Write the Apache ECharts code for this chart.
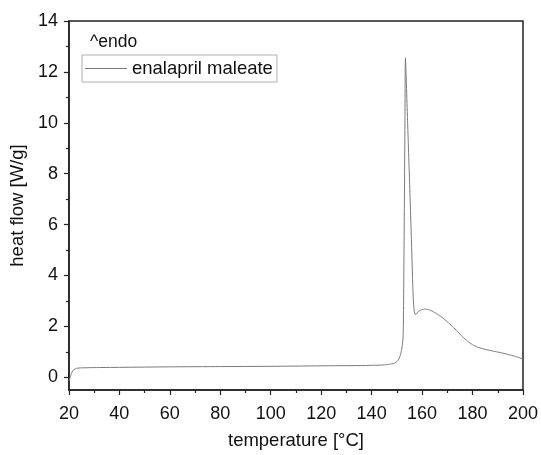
<!DOCTYPE html>
<html>
<head>
<meta charset="utf-8">
<script src="https://cdn.jsdelivr.net/npm/echarts@6/dist/echarts.min.js"></script>
<style>
  html, body { margin: 0; padding: 0; background: #fff; }
  #chart { width: 541px; height: 455px; }
</style>
</head>
<body>
<div id="chart"></div>
<script>
// DSC scan of enalapril maleate: temperature (°C) vs heat flow (W/g)
const temperature = [
  20, 20.5, 21, 21.5, 22, 23, 25, 30, 40, 60, 80, 100, 120, 135, 140, 144,
  146, 147.5, 149, 150, 150.8, 151.5, 152, 152.5, 152.8, 153.0, 153.2, 153.4,
  154.2, 155, 155.8, 156.5, 156.9, 157.3, 157.8, 158.5, 159.5, 161, 162.5, 164,
  166, 168, 170, 172, 174, 176, 178, 180, 182, 185, 188, 191, 194, 197, 200
];
const heatFlow = [
  -0.15, 0.0, 0.15, 0.25, 0.3, 0.35, 0.37, 0.38, 0.39, 0.41, 0.42, 0.43, 0.45, 0.46, 0.47, 0.48,
  0.5, 0.52, 0.55, 0.62, 0.72, 0.9, 1.15, 1.6, 4.5, 7.0, 10.0, 12.55,
  10.2, 7.8, 5.3, 3.1, 2.6, 2.47, 2.5, 2.58, 2.64, 2.68, 2.66, 2.6,
  2.48, 2.35, 2.18, 2.0, 1.8, 1.6, 1.42, 1.28, 1.18, 1.1, 1.03, 0.97, 0.9, 0.82, 0.72
];
const yMajorTicks = [0, 2, 4, 6, 8, 10, 12, 14];
const yMinorTicks = [1, 3, 5, 7, 9, 11, 13];

const font = 'Liberation Sans, Arial, sans-serif';
const axisColor = '#222';
const textColor = '#111';

const chart = echarts.init(document.getElementById('chart'), null, { renderer: 'canvas' });
chart.setOption({
  animation: false,
  backgroundColor: '#fff',
  title: {
    text: '^endo',
    left: 90, top: 33,
    padding: 0,
    textStyle: { fontFamily: font, fontSize: 17.5, fontWeight: 'normal', color: textColor }
  },
  legend: {
    left: 82, top: 55,
    orient: 'vertical',
    padding: [4, 4, 4, 3],
    borderColor: '#b0b0b0', borderWidth: 1,
    itemWidth: 42, itemHeight: 1, itemGap: 0,
    textStyle: { fontFamily: font, fontSize: 18.5, color: textColor, padding: [0, 0, 0, 0] },
    data: [{ name: 'enalapril maleate', icon: 'rect' }]
  },
  grid: {
    left: 67, right: 18, top: 21, bottom: 64,
    show: true, borderColor: axisColor, borderWidth: 1.5, backgroundColor: 'transparent'
  },
  xAxis: {
    type: 'value', min: 20, max: 200, interval: 20,
    name: 'temperature [°C]', nameLocation: 'middle', nameGap: 41,
    nameTextStyle: { fontFamily: font, fontSize: 18.5, color: textColor },
    axisLine: { show: true, onZero: false, lineStyle: { color: axisColor, width: 1.5 } },
    axisTick: { show: true, inside: false, length: 5, lineStyle: { color: axisColor, width: 1.2 } },
    minorTick: { show: true, splitNumber: 2, length: 3, lineStyle: { color: axisColor, width: 1.2 } },
    axisLabel: { fontFamily: font, fontSize: 18, color: textColor, margin: 15 },
    splitLine: { show: false }
  },
  yAxis: [
    {
      type: 'value', min: -0.5, max: 14,
      name: 'heat flow [W/g]', nameLocation: 'middle', nameGap: 31, nameRotate: 90,
      nameTextStyle: { fontFamily: font, fontSize: 18.5, color: textColor },
      axisLine: { show: true, onZero: false, lineStyle: { color: axisColor, width: 1.5 } },
      axisTick: { show: true, inside: false, length: 5, customValues: yMajorTicks, lineStyle: { color: axisColor, width: 1.2 } },
      axisLabel: { fontFamily: font, fontSize: 18, color: textColor, margin: 11, customValues: yMajorTicks },
      splitLine: { show: false }
    },
    {
      type: 'value', min: -0.5, max: 14, position: 'left',
      axisLine: { show: false },
      axisTick: { show: true, inside: false, length: 3, customValues: yMinorTicks, lineStyle: { color: axisColor, width: 1.2 } },
      axisLabel: { show: false },
      splitLine: { show: false }
    }
  ],
  series: [{
    name: 'enalapril maleate',
    type: 'line',
    data: temperature.map((t, i) => [t, heatFlow[i]]),
    showSymbol: false, symbol: 'none',
    smooth: 0.2,
    itemStyle: { color: '#7a7a7a' },
    lineStyle: { color: '#7a7a7a', width: 1 }
  }]
});
</script>
</body>
</html>
